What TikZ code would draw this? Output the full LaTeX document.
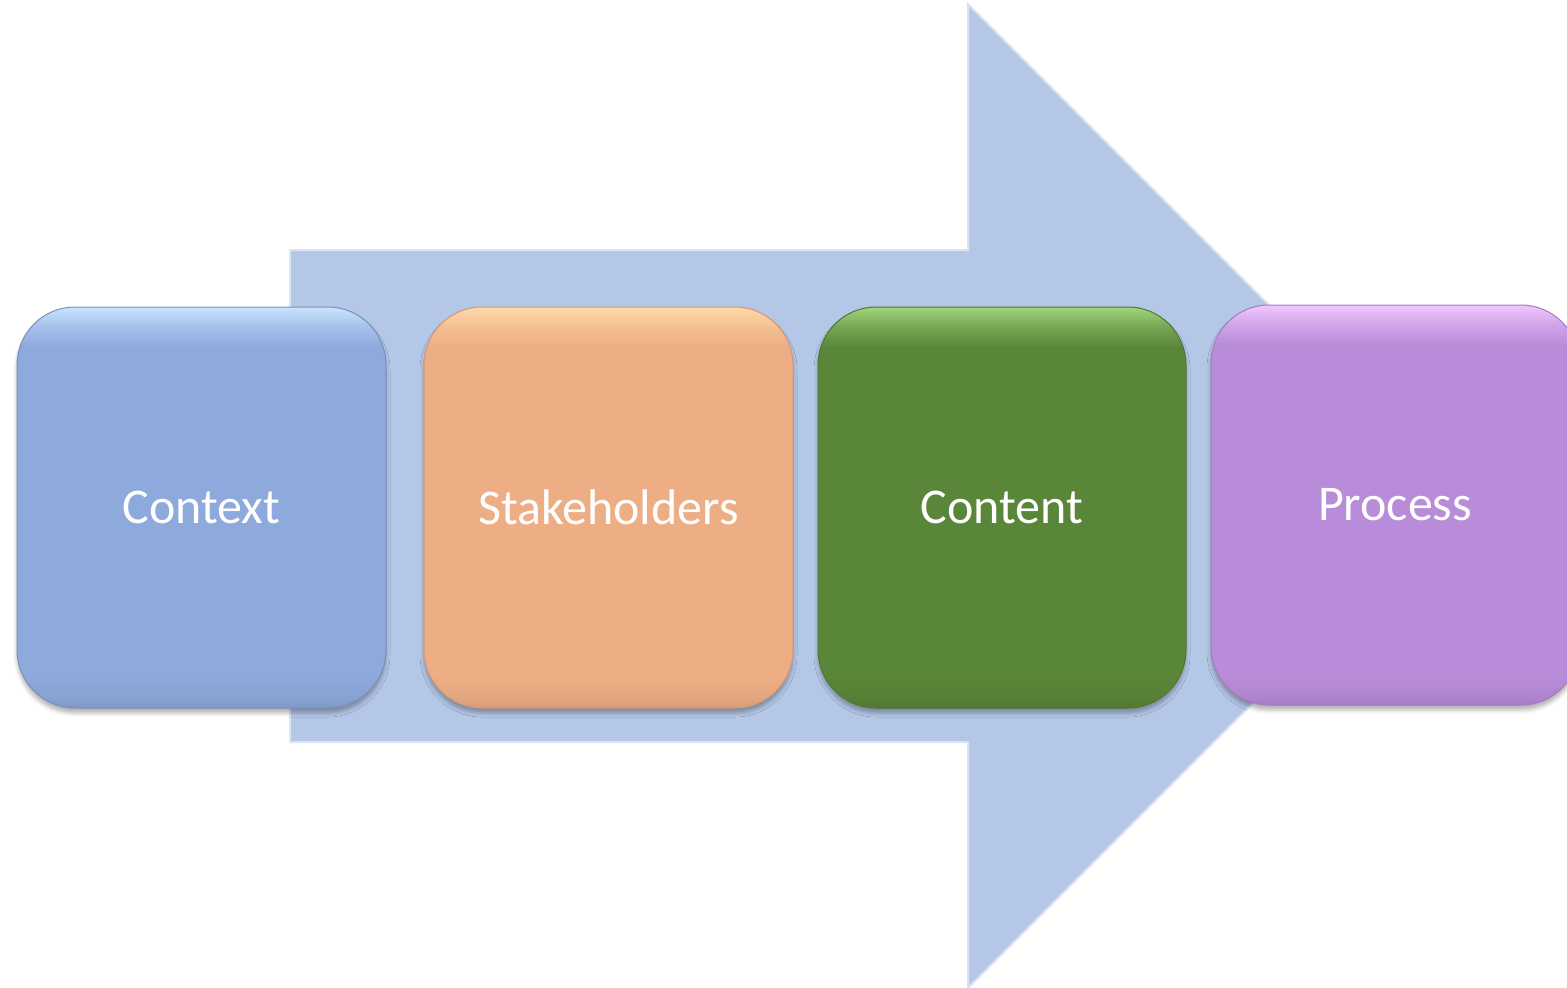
\documentclass[tikz,border=0pt]{standalone}
\usepackage{fontspec}
\setmainfont{Carlito}
\usetikzlibrary{shadows.blur}
\definecolor{arrowfill}{HTML}{B4C7E7}
\definecolor{arrowline}{HTML}{DAE3F3}
\definecolor{ctx}{HTML}{8EA9DB}
\definecolor{ctxL}{HTML}{C8E4FF}
\definecolor{stk}{HTML}{EDAE85}
\definecolor{stkL}{HTML}{FFD8A8}
\definecolor{cnt}{HTML}{5A8639}
\definecolor{cntL}{HTML}{9FD67C}
\definecolor{prc}{HTML}{B98CD9}
\definecolor{prcL}{HTML}{F0C8FF}
\newcommand\mkboxshade[3]{%
 \pgfdeclareverticalshading{#1}{100bp}{color(0bp)=(#2!90!black); color(25bp)=(#2!90!black); color(26.5bp)=(#2!96!black); color(29bp)=(#2); color(70bp)=(#2); color(72.5bp)=(#2!60!#3); color(75bp)=(#3); color(100bp)=(#3)}}
\mkboxshade{ctxsh}{ctx}{ctxL}
\mkboxshade{stksh}{stk}{stkL}
\mkboxshade{cntsh}{cnt}{cntL}
\mkboxshade{prcsh}{prc}{prcL}
\tikzset{
  stepbox/.style={rectangle, rounded corners=58pt, line width=1pt,
    text=white, font=\fontsize{50}{60}\selectfont,
    blur shadow={shadow xshift=0pt, shadow yshift=-5pt, shadow blur radius=4pt, shadow opacity=30}},
  bigarrow/.style={fill=arrowfill, draw=arrowline, line width=2pt, line join=miter}
}
\begin{document}
\begin{tikzpicture}[x=1pt,y=-1pt]
\useasboundingbox (0,0) rectangle (1567,988);
\clip (0,0) rectangle (1567,988);
\coordinate (a1) at (290,250);
\coordinate (a2) at (968,250);
\coordinate (a3) at (968,4);
\coordinate (a4) at (1460,496);
\coordinate (a5) at (968,988);
\coordinate (a6) at (968,742);
\coordinate (a7) at (290,742);
\path[bigarrow] (a1) -- (a2) -- (a3) -- (a4) -- (a5) -- (a6) -- (a7) -- cycle;
\node[stepbox, shading=ctxsh, draw=ctx!85!black, minimum width=369pt, minimum height=401pt] (context) at (201.5,507.5) {Context};
\node[stepbox, shading=stksh, draw=stk!88!black, minimum width=369pt, minimum height=401pt] (stake) at (608.5,507.5) {Stakeholders};
\node[stepbox, shading=cntsh, draw=cnt!88!black, minimum width=368pt, minimum height=401pt] (content) at (1002,507.5) {Content};
\node[stepbox, shading=prcsh, draw=prc!88!black, minimum width=368pt, minimum height=400pt] (process) at (1395,505) {Process};
\end{tikzpicture}
\end{document}
